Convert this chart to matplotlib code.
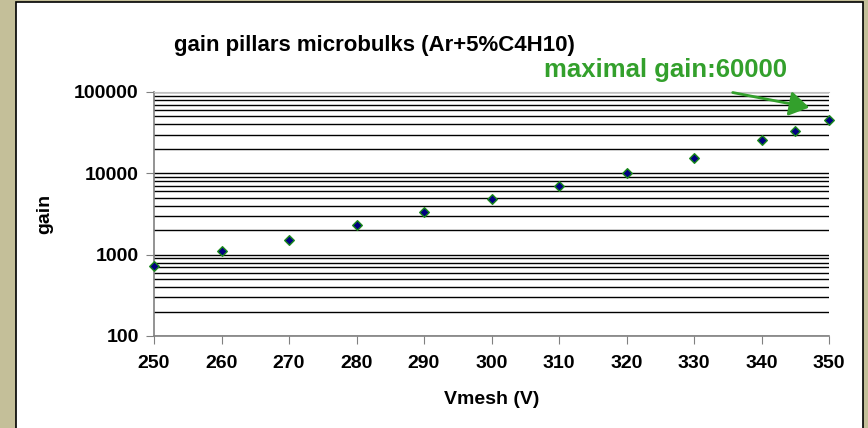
import matplotlib
matplotlib.use("Agg")
import matplotlib.pyplot as plt
from matplotlib.patches import Rectangle, FancyArrowPatch
from matplotlib.ticker import LogLocator, FixedLocator, NullFormatter

vmesh = [250, 260, 270, 280, 290, 300, 310, 320, 330, 340, 345, 350]
gain = [727, 1110, 1520, 2320, 3350, 4850, 7000, 10100, 15500, 25800, 33200, 45400]
xticks = [250, 260, 270, 280, 290, 300, 310, 320, 330, 340, 350]
yticks = [100, 1000, 10000, 100000]
ytick_labels = ["100", "1000", "10000", "100000"]

plt.rcParams['font.family'] = ['Liberation Sans', 'DejaVu Sans']
plt.rcParams['font.weight'] = 'bold'

W, H = 868, 428
fig = plt.figure(figsize=(W/100, H/100), dpi=100)
fig.patch.set_facecolor('#C4BF99')
fig.patches.append(Rectangle((16/W, -0.05), (863-16)/W, (H-2)/H + 0.05,
                             transform=fig.transFigure, facecolor='white',
                             edgecolor='black', linewidth=1.2, zorder=-10))

ax = fig.add_axes([154/W, 1-336/H, (829-154)/W, (336-92)/H])
ax.set_facecolor('none')
ax.set_yscale('log')
ax.set_xlim(250, 350)
ax.set_ylim(100, 100000)

ax.yaxis.set_major_locator(FixedLocator(yticks))
ax.set_yticklabels(ytick_labels)
ax.yaxis.set_minor_locator(LogLocator(base=10, subs=range(2, 10)))
ax.yaxis.set_minor_formatter(NullFormatter())
ax.set_xticks(xticks)
ax.set_xticklabels([str(v) for v in xticks])

ax.grid(True, which='both', axis='y', color='black', linewidth=1.0)
ax.tick_params(axis='y', which='minor', length=0)
ax.tick_params(axis='both', which='major', direction='out', length=6,
               color='#808080', labelsize=14, pad=5)
ax.tick_params(axis='x', pad=8)
ax.spines['right'].set_visible(False)
ax.spines['top'].set_color('#C0C0C0')
ax.spines['left'].set_color('#808080')
ax.spines['bottom'].set_color('#808080')
ax.spines['left'].set_linewidth(1.2)
ax.spines['bottom'].set_linewidth(1.2)
ax.set_axisbelow(True)

ax.scatter(vmesh, gain, marker='D', s=24, facecolor='#000080',
           edgecolor='#1A8A1A', linewidth=1.0, zorder=5, clip_on=False)

ax.set_xlabel('Vmesh (V)', fontsize=14, fontweight='bold', va='center')
ax.xaxis.set_label_coords(0.5, -(400-336)/244)
ax.set_ylabel('gain', fontsize=14, fontweight='bold', va='center')
ax.yaxis.set_label_coords(-(154-45)/675, 0.5)

fig.text(374/W, 1-46/H, 'gain pillars microbulks (Ar+5%C4H10)', ha='center',
         va='center', fontsize=16, fontweight='bold')
fig.text(666/W, 1-70/H, 'maximal gain:60000', ha='center', va='center',
         fontsize=18.5, fontweight='bold', color='#33A02C')
fig.add_artist(FancyArrowPatch(
    (730/W, 1-92/H), (812/W, 1-108/H), transform=fig.transFigure,
    arrowstyle='-|>,head_length=8,head_width=5', color='#33A02C',
    linewidth=2, mutation_scale=1.5))

fig.savefig('out.png', dpi=100)
